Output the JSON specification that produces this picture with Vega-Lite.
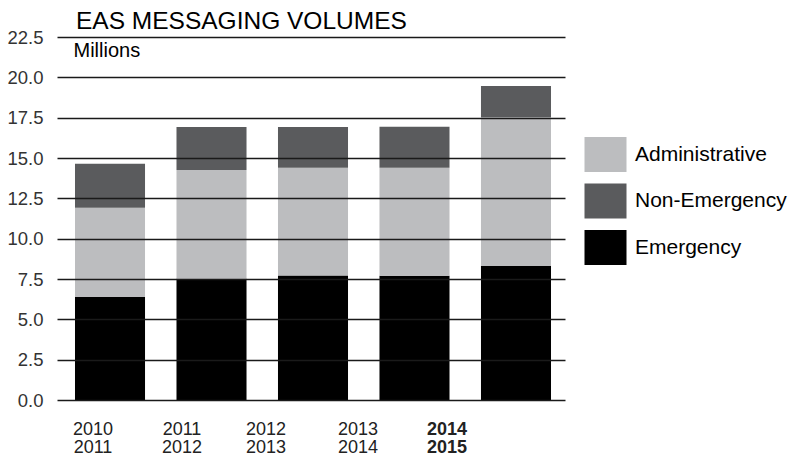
{
  "$schema": "https://vega.github.io/schema/vega-lite/v6.json",
  "width": 508,
  "height": 363,
  "autosize": {"type": "none"},
  "padding": {"left": 57, "top": 37, "right": 227, "bottom": 61},
  "background": "white",
  "config": {"font": "Liberation Sans", "view": {"stroke": null}},
  "title": {
    "text": "EAS MESSAGING VOLUMES",
    "anchor": "start",
    "frame": "group",
    "dx": 19,
    "offset": -6,
    "fontSize": 24.5,
    "fontWeight": "normal",
    "color": "#000000"
  },
  "data": {
    "values": [
      {"year": "2010 2011", "type": "Emergency", "ord": 1, "value": 6.4},
      {"year": "2010 2011", "type": "Administrative", "ord": 2, "value": 5.52},
      {"year": "2010 2011", "type": "Non-Emergency", "ord": 3, "value": 2.73},
      {"year": "2011 2012", "type": "Emergency", "ord": 1, "value": 7.52},
      {"year": "2011 2012", "type": "Administrative", "ord": 2, "value": 6.74},
      {"year": "2011 2012", "type": "Non-Emergency", "ord": 3, "value": 2.66},
      {"year": "2012 2013", "type": "Emergency", "ord": 1, "value": 7.71},
      {"year": "2012 2013", "type": "Administrative", "ord": 2, "value": 6.69},
      {"year": "2012 2013", "type": "Non-Emergency", "ord": 3, "value": 2.52},
      {"year": "2013 2014", "type": "Emergency", "ord": 1, "value": 7.7},
      {"year": "2013 2014", "type": "Administrative", "ord": 2, "value": 6.7},
      {"year": "2013 2014", "type": "Non-Emergency", "ord": 3, "value": 2.54},
      {"year": "2014 2015", "type": "Emergency", "ord": 1, "value": 8.31},
      {"year": "2014 2015", "type": "Administrative", "ord": 2, "value": 9.21},
      {"year": "2014 2015", "type": "Non-Emergency", "ord": 3, "value": 1.95}
    ]
  },
  "mark": {"type": "bar"},
  "encoding": {
    "x": {
      "field": "year",
      "type": "nominal",
      "sort": null,
      "scale": {"paddingInner": 0.31, "paddingOuter": 0.1576, "align": 0.5625},
      "axis": {
        "title": null,
        "labelAngle": 0,
        "labelExpr": "split(datum.label, ' ')",
        "labelFontSize": 18,
        "labelLineHeight": 18.5,
        "labelPadding": 20,
        "labelColor": "#222222",
        "labelFontWeight": {"condition": {"test": "datum.value == '2014 2015'", "value": "bold"}, "value": "normal"},
        "labelOffset": {
          "condition": [
            {"test": "datum.value == '2010 2011'", "value": -17},
            {"test": "datum.value == '2011 2012'", "value": -29.5},
            {"test": "datum.value == '2012 2013'", "value": -47},
            {"test": "datum.value == '2013 2014'", "value": -56.5}
          ],
          "value": -69
        },
        "ticks": false,
        "domain": false,
        "grid": false
      }
    },
    "y": {
      "field": "value",
      "type": "quantitative",
      "stack": "zero",
      "scale": {"domain": [0, 22.5], "nice": false},
      "axis": {
        "values": [0, 2.5, 5, 7.5, 10, 12.5, 15, 17.5, 20, 22.5],
        "format": ".1f",
        "grid": true,
        "gridColor": "#1a1a1a",
        "gridWidth": 1.5,
        "ticks": false,
        "domain": false,
        "labelFontSize": 18.5,
        "labelPadding": 14,
        "labelColor": "#333333",
        "title": "Millions",
        "titleAngle": 0,
        "titleX": 16,
        "titleY": 3,
        "titleAlign": "left",
        "titleBaseline": "top",
        "titleFontSize": 20,
        "titleFontWeight": "normal",
        "titleColor": "#000000",
        "zindex": 1
      }
    },
    "color": {
      "field": "type",
      "type": "nominal",
      "scale": {
        "domain": ["Administrative", "Non-Emergency", "Emergency"],
        "range": ["#bcbdbf", "#5a5b5d", "#000000"]
      },
      "legend": {
        "title": null,
        "orient": "none",
        "legendX": 531,
        "legendY": 100,
        "padding": 0,
        "symbolType": "M-1.2,-1H1.2V1H-1.2Z",
        "symbolSize": 1225,
        "symbolOpacity": 1,
        "symbolStrokeWidth": 0,
        "labelFontSize": 21,
        "labelOffset": 12,
        "labelColor": "#000000",
        "rowPadding": 11.5
      }
    },
    "order": {"field": "ord", "type": "quantitative"}
  }
}
